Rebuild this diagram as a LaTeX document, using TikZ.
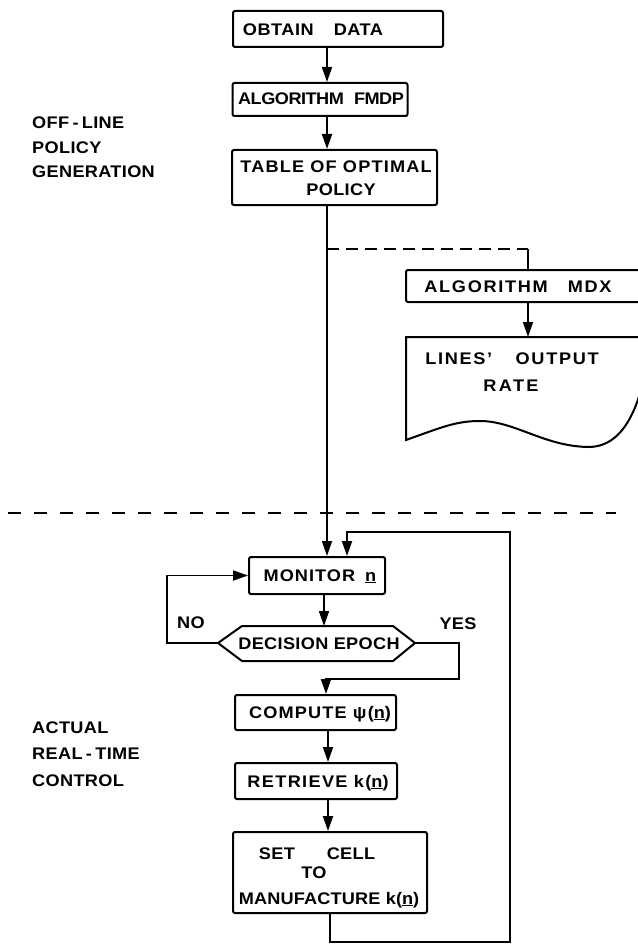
\documentclass[tikz,border=0pt]{standalone}
\usepackage{fontspec}
\setmainfont[FakeStretch=1.08]{Liberation Sans}
\usetikzlibrary{arrows.meta}

\begin{document}
\begin{tikzpicture}[x=1pt,y=-1pt,
  box/.style={draw, line width=2pt, rounded corners=2pt, inner sep=0pt},
  lbl/.style={font=\fontsize{16.8}{20}\selectfont\bfseries\addfontfeatures{LetterSpace=#1},
              inner sep=0pt, anchor=base},
  lbl/.default=2,
  side/.style={lbl, anchor=base west},
  wire/.style={line width=1.8pt},
  arr/.style={wire, -{Triangle[length=15pt,width=10pt]}},
  offdash/.style={line width=1.8pt, dash pattern=on 12pt off 7pt},
  sepdash/.style={line width=2pt, dash pattern=on 13pt off 13pt}]
\useasboundingbox (0,0) rectangle (637,944);

% ---------- off-line part ----------
\node[box, minimum width=210pt, minimum height=36pt] (obtain) at (338,29) {};
\node[lbl=3] (obtaintxt) at (313,36) {OBTAIN\hspace{1.2em}DATA};

\node[box, minimum width=175pt, minimum height=33pt] (fmdp) at (320,99.5) {};
\node[lbl=-3] (fmdptxt) at (321,105) {ALGORITHM\hspace{0.6em}FMDP};

\node[box, minimum width=205pt, minimum height=55pt] (table) at (334.5,177.5) {};
\node[lbl=7] (tabletxt1) at (336,173) {TABLE OF OPTIMAL};
\node[lbl] (tabletxt2) at (341,196) {POLICY};

\node[side] (off1) at (32,129) {OFF\hspace{0.2em}-\hspace{0.2em}LINE};
\node[side] (off2) at (32,154) {POLICY};
\node[side] (off3) at (32,178) {GENERATION};

% policy evaluation branch
\node[box, minimum width=240pt, minimum height=32pt] (mdx) at (526,286) {};
\node[lbl=10] (mdxtxt) at (518,292) {ALGORITHM\hspace{1.2em}MDX};

\draw[line width=2pt] (646,337) -- (406,337) -- (406,440)
  .. controls (440,428) and (455,421) .. (480,421)
  .. controls (515,421) and (545,447) .. (590,447)
  .. controls (615,446) and (631,425) .. (641,390);
\coordinate (doctop) at (528,337);
\node[lbl=10] (doctxt1) at (512,364) {LINES'\hspace{1.4em}OUTPUT};
\node[lbl=14] (doctxt2) at (511,391) {RATE};

% ---------- separator ----------
\coordinate (sepL) at (8,513);
\coordinate (sepR) at (616,513);
\draw[sepdash] (sepL) -- (sepR);

% ---------- real-time part ----------
\node[box, minimum width=136pt, minimum height=37pt] (monitor) at (317,575.5) {};
\node[lbl=6] (monitortxt) at (320,581) {MONITOR\hspace{0.6em}\underline{n}};

\coordinate (decL) at (218,643);
\coordinate (decR) at (415,643);
\coordinate (decT) at (324,626);
\draw[line width=2pt, line join=round] (decL) -- (242,626) -- (393,626) -- (decR)
  -- (393,661) -- (242,661) -- cycle;
\node[lbl] (dectxt) at (319,649) {DECISION EPOCH};
\node[lbl] (notxt) at (191,628) {NO};
\node[lbl] (yestxt) at (458,629) {YES};

\node[box, minimum width=161pt, minimum height=35pt] (compute) at (315.5,712.5) {};
\node[lbl=7] (computetxt) at (320,718) {COMPUTE ψ(\underline{n})};

\node[box, minimum width=162pt, minimum height=36pt] (retrieve) at (316,781) {};
\node[lbl=8] (retrievetxt) at (318,787) {RETRIEVE k(\underline{n})};

\node[box, minimum width=194pt, minimum height=81pt] (setcell) at (330,872.5) {};
\node[lbl] (settxt1) at (317,859) {SET\hspace{1.9em}CELL};
\node[lbl] (settxt2) at (314,878) {TO};
\node[lbl=1] (settxt3) at (329,904) {MANUFACTURE k(\underline{n})};

\node[side] (act1) at (32,733) {ACTUAL};
\node[side] (act2) at (32,759) {REAL\hspace{0.2em}-\hspace{0.2em}TIME};
\node[side] (act3) at (32,786) {CONTROL};

% ---------- connectors ----------
\coordinate (cx) at (327,0);
\coordinate (cy) at (328,0);
\coordinate (tap) at (327,249);
\coordinate (mdxin) at (528,249);
\coordinate (lx) at (330,0);
\coordinate (mx) at (347,0);
\coordinate (yx) at (326,0);
\coordinate (loopBR) at (510,942);
\coordinate (loopTR) at (510,532);

\draw[arr] (obtain.south -| cx) -- (fmdp.north -| cx);
\draw[arr] (fmdp.south -| cx) -- (table.north -| cx);
\draw[arr] (table.south -| cx) -- (monitor.north -| cx);
\draw[offdash] (tap) -- (mdxin);
\draw[wire] (mdxin) -- (mdx.north -| mdxin);
\draw[arr] (mdx.south -| mdxin) -- (doctop);

\draw[arr] (monitor.south -| decT) -- (decT);
\draw[arr] (decL) -- ++(-51,0) |- (monitor.west);
\draw[arr] (decR) -- ++(44,0) -- ++(0,36) -| (compute.north -| yx);
\draw[arr] (compute.south -| cy) -- (retrieve.north -| cy);
\draw[arr] (retrieve.south -| cy) -- (setcell.north -| cy);
\draw[arr] (setcell.south -| lx) |- (loopBR) -- (loopTR) -| (monitor.north -| mx);
\end{tikzpicture}
\end{document}
